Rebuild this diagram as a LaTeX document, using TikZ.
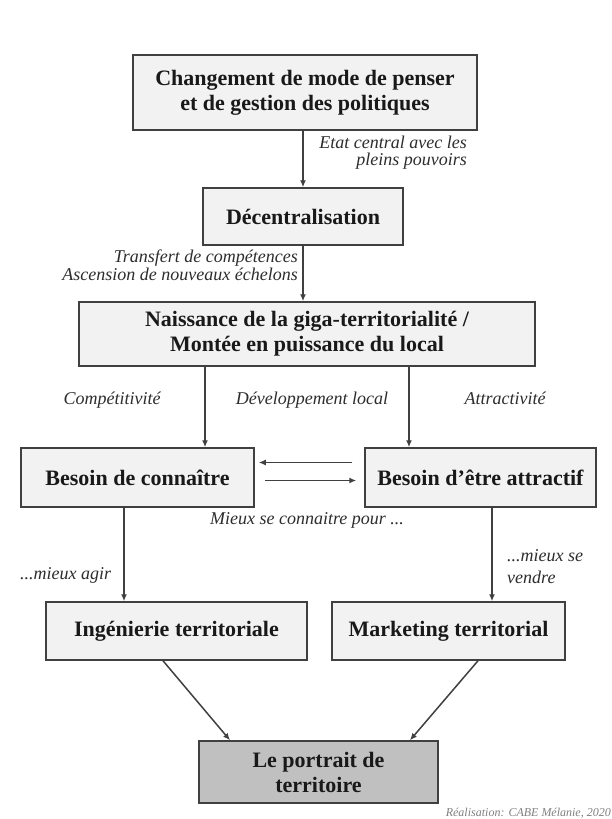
\documentclass[tikz,border=0pt]{standalone}
\usepackage{fontspec}
\setmainfont{Liberation Serif}
\usetikzlibrary{arrows.meta}

\definecolor{boxfill}{RGB}{242,242,242}
\definecolor{portfill}{RGB}{192,192,192}
\definecolor{edge}{RGB}{64,64,64}
\definecolor{txtgray}{RGB}{45,45,45}

\begin{document}
\begin{tikzpicture}[x=1pt,y=-1pt,
	box/.style={draw=edge, line width=1.5pt, fill=boxfill, align=center, inner sep=0pt,
		font=\fontsize{22}{25}\selectfont\bfseries, text=black!90},
	lbl/.style={inner sep=0pt, font=\fontsize{18}{22}\selectfont\itshape, text=txtgray},
	arr/.style={-{Latex[length=7pt,width=6pt]}, draw=edge, line width=1.5pt}]

	% page
	\fill[white] (0,0) rectangle (612,819);
	\useasboundingbox (0,0) rectangle (612,819);

	% boxes
	\node[box, minimum width=344pt, minimum height=75pt] (chgt) at (305,92.5)
	{Changement de mode de penser\\et de gestion des politiques};
	\node[box, minimum width=200pt, minimum height=57pt] (decen) at (303,216.5) {Décentralisation};
	\node[box, minimum width=456pt, minimum height=64pt] (naiss) at (307,334)
	{Naissance de la giga-territorialité /\\Montée en puissance du local};
	\node[box, minimum width=233pt, minimum height=59pt] (connaitre) at (137.5,477.5) {Besoin de connaître};
	\node[box, minimum width=231pt, minimum height=59pt] (attractif) at (480.5,477.5) {Besoin d’être attractif};
	\node[box, minimum width=261pt, minimum height=58pt] (ingen) at (176.5,631) {Ingénierie territoriale};
	\node[box, minimum width=233pt, minimum height=58pt] (market) at (448.5,631) {Marketing territorial};
	\node[box, fill=portfill, minimum width=239pt, minimum height=62pt] (portrait) at (318.5,772)
	{Le portrait de\\territoire};

	% vertical arrows
	\draw[arr] (decen.north |- chgt.south) -- (decen.north);
	\draw[arr] (decen.south) -- (decen.south |- naiss.north);
	\coordinate (cl) at ([xshift=-102pt]naiss.south);
	\coordinate (cr) at ([xshift=102pt]naiss.south);
	\draw[arr] (cl) -- (cl |- connaitre.north);
	\draw[arr] (cr) -- (cr |- attractif.north);

	% between the two needs
	\coordinate (hta) at ([shift={(-12,-15)}]attractif.west);
	\coordinate (htb) at ([shift={(4,-15)}]connaitre.east);
	\coordinate (hba) at ([shift={(10,3)}]connaitre.east);
	\coordinate (hbb) at ([shift={(-8,3)}]attractif.west);
	\draw[arr] (hta) -- (htb);
	\draw[arr] (hba) -- (hbb);

	% down to the two tools
	\coordinate (dl) at ([xshift=-13.5pt]connaitre.south);
	\coordinate (dr) at ([xshift=11.5pt]attractif.south);
	\draw[arr] (dl) -- (dl |- ingen.north);
	\draw[arr] (dr) -- (dr |- market.north);

	% to the portrait
	\draw[arr] ([xshift=-13.5pt]ingen.south) -- ([xshift=-88.5pt]portrait.north);
	\draw[arr] ([xshift=29.5pt]market.south) -- ([xshift=91.5pt]portrait.north);

	% labels
	\node[lbl, anchor=north east, align=right] (etat) at (467,136)
	{Etat central avec les\\[-5pt]pleins pouvoirs};
	\node[lbl, anchor=north east, align=right] (transf) at (298,250)
	{Transfert de compétences\\[-4pt]Ascension de nouveaux échelons};
	\node[lbl, anchor=base] (compet) at (112,404) {Compétitivité};
	\node[lbl, anchor=base] (devloc) at (312,404) {Développement local};
	\node[lbl, anchor=base] (attrac) at (505,404) {Attractivité};
	\node[lbl, anchor=base] (mieux) at (307,524) {Mieux se connaitre pour ...};
	\node[lbl, anchor=base west] (agir) at (20,579) {...mieux agir};
	\node[lbl, anchor=north west, align=left] (vendre) at (507,549)
	{...mieux se\\vendre};
	\node[lbl, anchor=base east, font=\fontsize{12}{14}\selectfont\itshape, text=black!50] (real) at (611,816)
	{Réalisation: CABE Mélanie, 2020};

\end{tikzpicture}
\end{document}
